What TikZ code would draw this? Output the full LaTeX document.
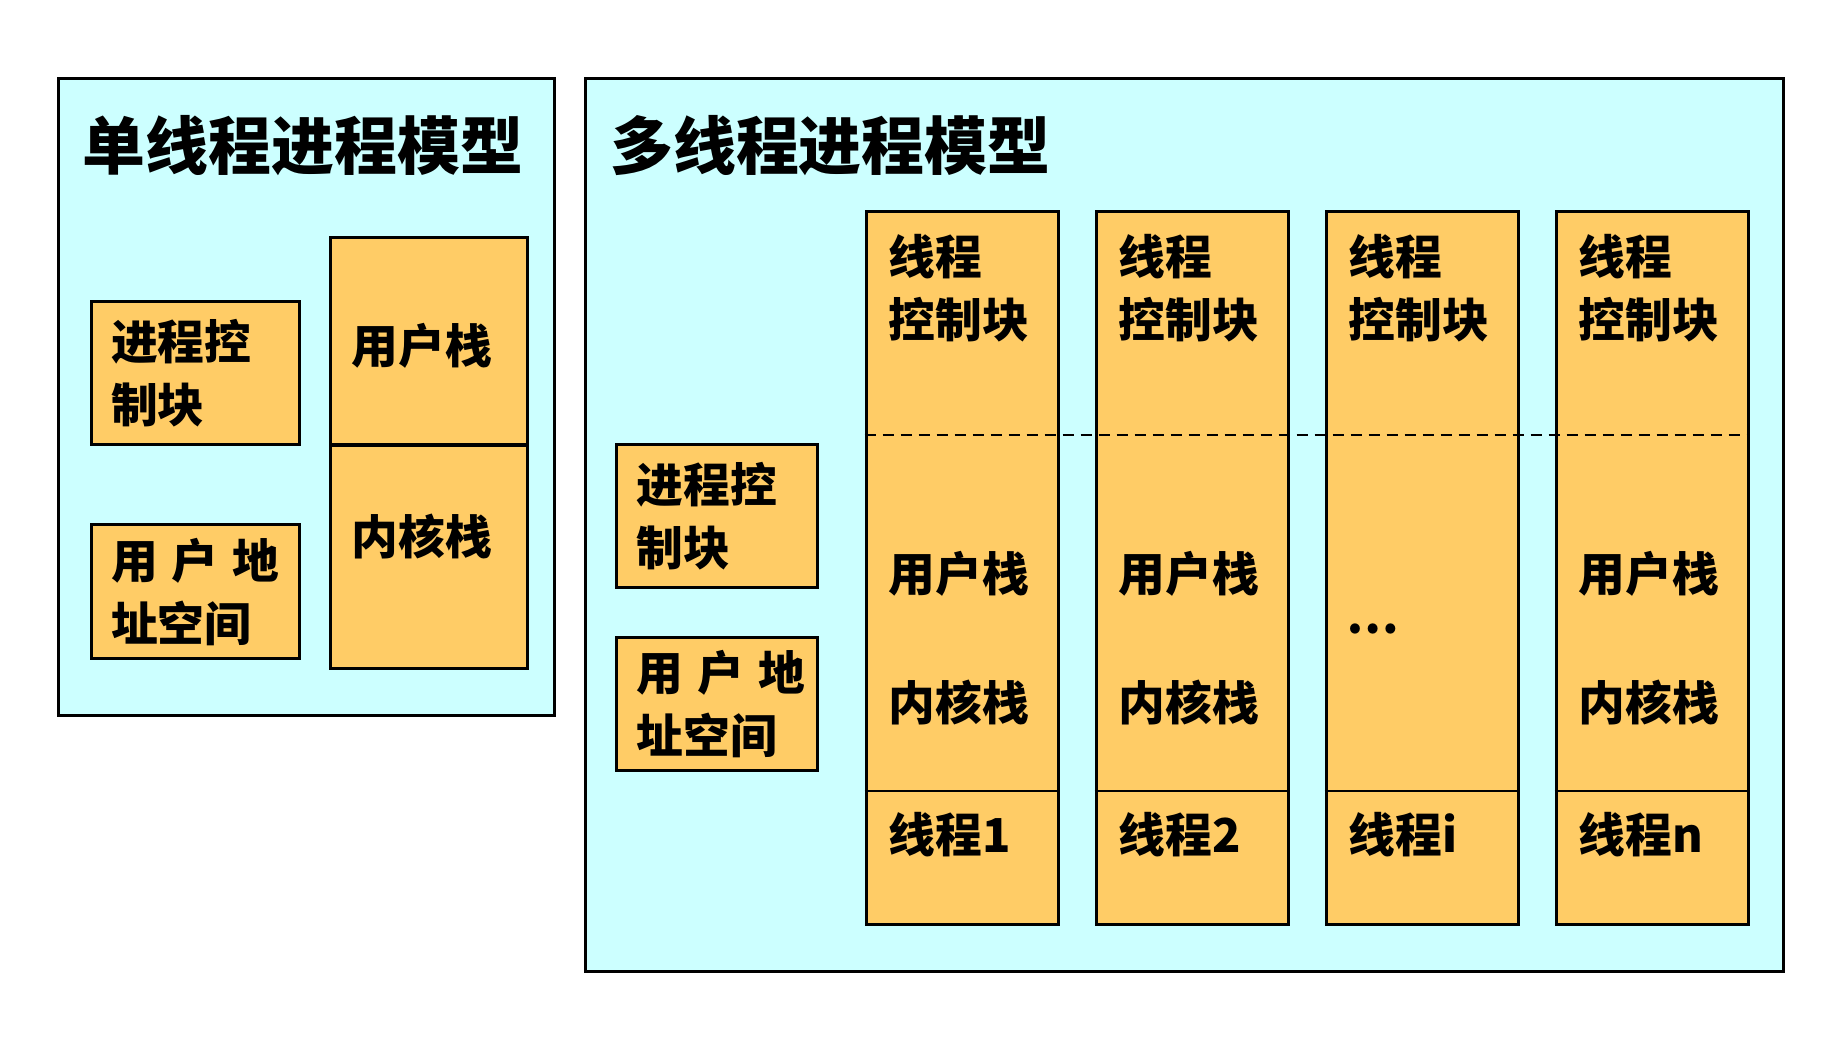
\documentclass[tikz,border=0pt]{standalone}
\usepackage{fontspec}
\setmainfont{Noto Sans CJK SC}
\usetikzlibrary{positioning}
\definecolor{procbg}{RGB}{204,255,255}
\definecolor{blockfill}{RGB}{255,204,102}

\begin{document}
\begin{tikzpicture}[
  x=0.1mm, y=-0.1mm,
  every node/.style={font=\bfseries\fontsize{13.3pt}{17.9pt}\selectfont},
  model/.style={draw=black, fill=procbg, line width=0.3mm, inner sep=0pt},
  heading/.style={anchor=west, inner sep=0pt,
                  font=\bfseries\fontsize{17.9pt}{20pt}\selectfont},
  infobox/.style={draw=black, fill=blockfill, line width=0.3mm,
                  text width=16.8mm, inner xsep=2mm, align=left},
  stackbox/.style={draw=black, fill=blockfill, line width=0.3mm},
  thread/.style={draw=black, fill=blockfill, line width=0.3mm,
                 minimum width=19.2mm, minimum height=71.2mm},
  entry/.style={anchor=west, inner sep=0pt, align=left},
  split/.style={line width=0.2mm},
]
\useasboundingbox (0,0) rectangle (1838,1045);

% single-threaded process
\node[model, minimum width=49.6mm, minimum height=63.75mm] (single) at (306.5,397) {};
\node[heading] (singletitle) at (82,146) {单线程进程模型};
\node[infobox, minimum height=14.3mm] (pcbA) at (195,373.5) {进程控\\制块};
\node[infobox, minimum height=13.4mm] (uasA) at (195,592)
  {\mbox{用\hspace{0.3em}户\hspace{0.3em}地}\\址空间};
\node[stackbox, minimum width=19.7mm, minimum height=43.1mm] (stackA) at (429,453.5) {};
\draw[line width=0.45mm] (stackA.west |- 0,445) -- (stackA.east |- 0,445);
\node[entry, anchor=center] (ustackA) at (422,346) {用户栈};
\node[entry, anchor=center] (kstackA) at (422,537) {内核栈};

% multi-threaded process
\node[model, minimum width=119.8mm, minimum height=89.35mm] (multi) at (1184,525) {};
\node[heading] (multititle) at (609.5,146) {多线程进程模型};
\node[infobox, text width=16.1mm, minimum height=14.3mm] (pcbB) at (717.3,516.5) {进程控\\制块};
\node[infobox, text width=16.1mm, minimum height=13.2mm] (uasB) at (717.3,704)
  {\mbox{用\hspace{0.3em}户\hspace{0.3em}地}\\址空间};

\node[thread] (thr1) at (962,568) {};
\node[thread] (thr2) at (1192,568) {};
\node[thread] (thr3) at (1422,568) {};
\node[thread] (thr4) at (1652,568) {};

\draw[split] (thr1.west |- 0,791) -- (thr1.east |- 0,791);
\draw[split] (thr2.west |- 0,791) -- (thr2.east |- 0,791);
\draw[split] (thr3.west |- 0,791) -- (thr3.east |- 0,791);
\draw[split] (thr4.west |- 0,791) -- (thr4.east |- 0,791);
\draw[split, dash pattern=on 1.1mm off 0.7mm] (thr1.west |- 0,435) -- (thr4.east |- 0,435);

% thread 1
\node[entry] (tcb1) at (888,288) {线程\\控制块};
\node[entry] (ustack1) at (888,574) {用户栈};
\node[entry] (kstack1) at (888,703) {内核栈};
\node[entry] (name1) at (888,835) {线程1};
% thread 2
\node[entry] (tcb2) at (1118,288) {线程\\控制块};
\node[entry] (ustack2) at (1118,574) {用户栈};
\node[entry] (kstack2) at (1118,703) {内核栈};
\node[entry] (name2) at (1118,835) {线程2};
% thread i
\node[entry] (tcb3) at (1348,288) {线程\\控制块};
\node[entry] (dots3) at (1346,629) {…};
\node[entry] (name3) at (1348,835) {线程i};
% thread n
\node[entry] (tcb4) at (1578,288) {线程\\控制块};
\node[entry] (ustack4) at (1578,574) {用户栈};
\node[entry] (kstack4) at (1578,703) {内核栈};
\node[entry] (name4) at (1578,835) {线程n};

\end{tikzpicture}
\end{document}
